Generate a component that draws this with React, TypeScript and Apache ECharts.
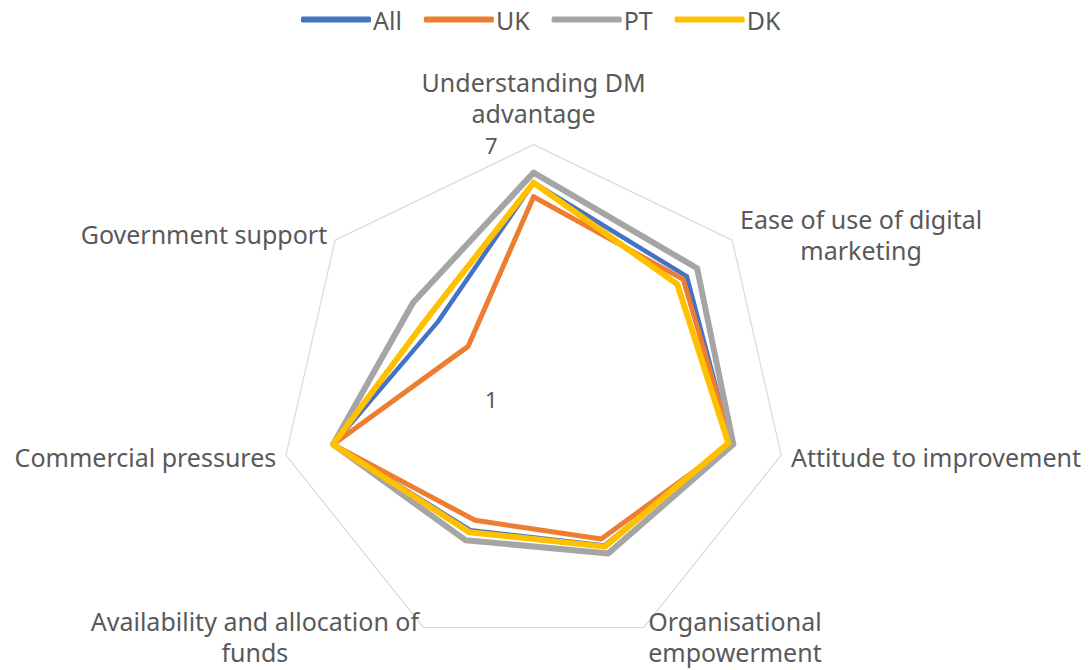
import React, { useEffect, useRef } from "react";
import * as echarts from "echarts";

// Indicators in Excel (clockwise) order, starting at the top
const indicators = [
  "Understanding DM\nadvantage",
  "Ease of use of digital\nmarketing",
  "Attitude to improvement",
  "Organisational\nempowerment",
  "Availability and allocation of\nfunds",
  "Commercial pressures",
  "Government support",
];

const seriesNames = ["All", "UK", "PT", "DK"];
const allValues = [6.1, 5.63, 5.78, 4.85, 4.45, 5.86, 3.9];
const ukValues = [5.77, 5.52, 5.8, 4.68, 4.19, 5.86, 2.98];
const ptValues = [6.34, 5.94, 5.84, 5.06, 4.71, 5.86, 4.64];
const dkValues = [6.1, 5.34, 5.72, 4.88, 4.5, 5.86, 4.15];
const axisMin = 1;
const axisMax = 7;

const colors = ["#4472C4", "#ED7D31", "#A5A5A5", "#FFC000"];
const widths = [4.5, 5, 6, 6];

// ECharts lays indicators out counter-clockwise; reorder for clockwise look
const toCCW = <T,>(arr: T[]): T[] => [arr[0], ...arr.slice(1).reverse()];

export default function App() {
  const ref = useRef<HTMLDivElement>(null);
  useEffect(() => {
    document.body.style.margin = "0";
    const chart = echarts.init(ref.current!, null, { renderer: "svg" });
    const font = "'Noto Sans', 'Open Sans', sans-serif";
    const textColor = "#595959";
    const values = [allValues, ukValues, ptValues, dkValues];
    const ind = toCCW(indicators).map((name, i) => {
      const o: any = { name, min: axisMin, max: axisMax };
      if (i === 0) {
        o.nameGap = 16;
        o.axisLabel = {
          show: true,
          color: textColor,
          fontSize: 22,
          lineHeight: 16,
          fontFamily: font,
          margin: 36,
        };
      }
      return o;
    });
    chart.setOption({
      animation: false,
      backgroundColor: "#ffffff",
      legend: {
        top: 2,
        left: 296,
        data: seriesNames,
        icon: "roundRect",
        itemWidth: 70,
        itemHeight: 6,
        itemGap: 22,
        textStyle: { color: textColor, fontSize: 25, fontFamily: font, padding: [0, 0, 0, -3] },
      },
      radar: {
        center: ["49%", "59.5%"],
        radius: 254,
        shape: "polygon",
        splitNumber: 1,
        indicator: ind,
        axisName: {
          color: textColor,
          fontSize: 25,
          fontFamily: font,
          formatter: (name: string) =>
            name
              .split("\n")
              .map((l) => `{a|${l}}`)
              .join("\n"),
          rich: {
            a: {
              align: "center",
              color: textColor,
              fontSize: 25,
              lineHeight: 31,
              fontFamily: font,
            },
          },
        },
        nameGap: 10,
        axisLine: { show: false },
        axisTick: { show: false },
        splitLine: { lineStyle: { color: "#D9D9D9", width: 1.2 } },
        splitArea: { show: false },
      },
      series: [
        {
          type: "radar",
          symbol: "none",
          data: seriesNames.map((name, i) => ({
            name,
            value: toCCW(values[i]),
            lineStyle: {
              color: colors[i],
              width: widths[i],
              join: "round",
              cap: "round",
            },
            itemStyle: { color: colors[i] },
          })),
        },
      ],
    });
    return () => chart.dispose();
  }, []);
  return <div ref={ref} style={{ width: 1089, height: 670 }} />;
}
